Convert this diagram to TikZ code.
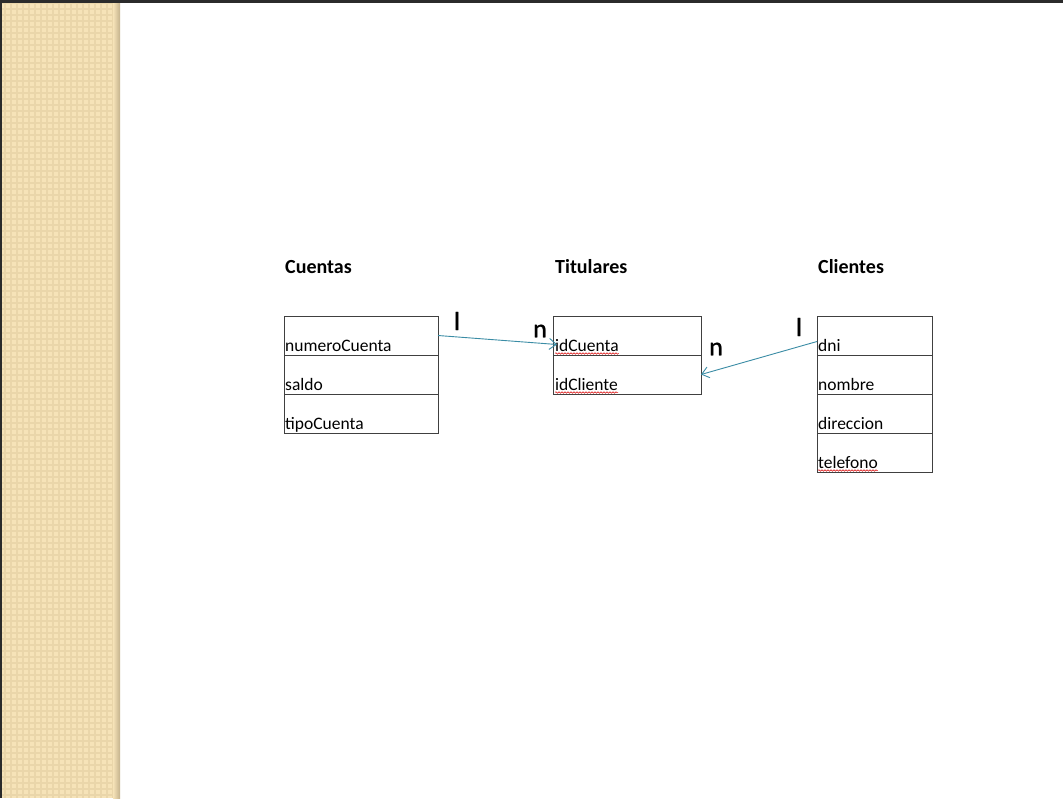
\documentclass[tikz,border=0pt]{standalone}
\usepackage{fontspec}
\setmainfont{Carlito}
\newfontfamily\cardfont{Carlito}[FakeBold=1.2]
\usetikzlibrary{arrows.meta,calc,decorations.pathmorphing}
\definecolor{beige}{HTML}{F6E3B8}
\definecolor{beigedk}{HTML}{EAD6AA}
\definecolor{edgedk}{HTML}{C4B28D}
\definecolor{teal}{HTML}{3A8CA5}
\definecolor{barcol}{HTML}{2B2B2B}
\tikzset{
  cell/.style={draw=black!75, line width=0.8pt, minimum height=39pt, inner sep=0pt, outer sep=0pt},
  ctext/.style={anchor=base west, inner sep=0pt, font=\fontsize{17.5}{19}\selectfont},
  title/.style={anchor=base west, inner sep=0pt, font=\bfseries\fontsize{20}{22}\selectfont},
  card/.style={inner sep=0pt, font=\cardfont\fontsize{26}{28}\selectfont},
  rel/.style={draw=teal, line width=0.9pt, -{Straight Barb[length=7pt,width=11pt]}},
  spell/.style={draw=red!85!black, line width=0.5pt, decorate, decoration={snake, amplitude=0.8pt, segment length=3pt}}
}
\begin{document}
\begin{tikzpicture}[x=1pt,y=-1pt]
\useasboundingbox (0,0) rectangle (1063,798);
\fill[white] (0,0) rectangle (1063,798);
% side strip
\fill[beige] (2,3) rectangle (120,798);
\foreach \i in {3,9,...,798} \draw[beigedk, line width=1.3pt] (2,\i) -- (114,\i);
\foreach \i in {5,11,...,114} \draw[beigedk, line width=1.3pt] (\i,3) -- (\i,798);
\shade[left color=beige, right color=edgedk] (113,3) rectangle (120,798);
\fill[barcol] (0,0) rectangle (1063,3);
\fill[barcol] (0,0) rectangle (2,798);

% Cuentas
\node[title] (tc) at (285,273) {Cuentas};
\node[cell, minimum width=154pt, anchor=north west] (c1) at (284,316) {};
\node[cell, minimum width=154pt, anchor=north west] (c2) at (284,355) {};
\node[cell, minimum width=154pt, anchor=north west] (c3) at (284,394) {};
\node[ctext] (c1t) at ($(c1.south west)+(1,-4)$) {numeroCuenta};
\node[ctext] (c2t) at ($(c2.south west)+(1,-4)$) {saldo};
\node[ctext] (c3t) at ($(c3.south west)+(1,-4)$) {tipoCuenta};

% Titulares
\node[title] (tt) at (555,273) {Titulares};
\node[cell, minimum width=148pt, anchor=north west] (t1) at (553,316) {};
\node[cell, minimum width=148pt, anchor=north west] (t2) at (553,355) {};
\node[ctext] (t1t) at ($(t1.south west)+(2,-4)$) {idCuenta};
\node[ctext] (t2t) at ($(t2.south west)+(2,-4)$) {idCliente};
\draw[spell] ($(t1t.base west)+(0,2.5)$) -- ($(t1t.base east)+(0,2.5)$);
\draw[spell] ($(t2t.base west)+(0,2.5)$) -- ($(t2t.base east)+(0,2.5)$);

% Clientes
\node[title] (tk) at (818,273) {Clientes};
\node[cell, minimum width=115pt, anchor=north west] (k1) at (817,316) {};
\node[cell, minimum width=115pt, anchor=north west] (k2) at (817,355) {};
\node[cell, minimum width=115pt, anchor=north west] (k3) at (817,394) {};
\node[cell, minimum width=115pt, anchor=north west] (k4) at (817,433) {};
\node[ctext] (k1t) at ($(k1.south west)+(1,-4)$) {dni};
\node[ctext] (k2t) at ($(k2.south west)+(1,-4)$) {nombre};
\node[ctext] (k3t) at ($(k3.south west)+(1,-4)$) {direccion};
\node[ctext] (k4t) at ($(k4.south west)+(1,-4)$) {telefono};
\draw[spell] ($(k4t.base west)+(0,2.5)$) -- ($(k4t.base east)+(0,2.5)$);

% connectors
\draw[rel] (c1.east) -- ($(t1.west)+(4,9)$);
\draw[rel] ($(k1.west)+(0,6)$) -- (t2.east);

% cardinalities
\node[card] (l1) at (457,321) {l};
\node[card] (n1) at (540,331) {n};
\node[card] (n2) at (716,349) {n};
\node[card] (l2) at (799,327) {l};
\end{tikzpicture}
\end{document}
